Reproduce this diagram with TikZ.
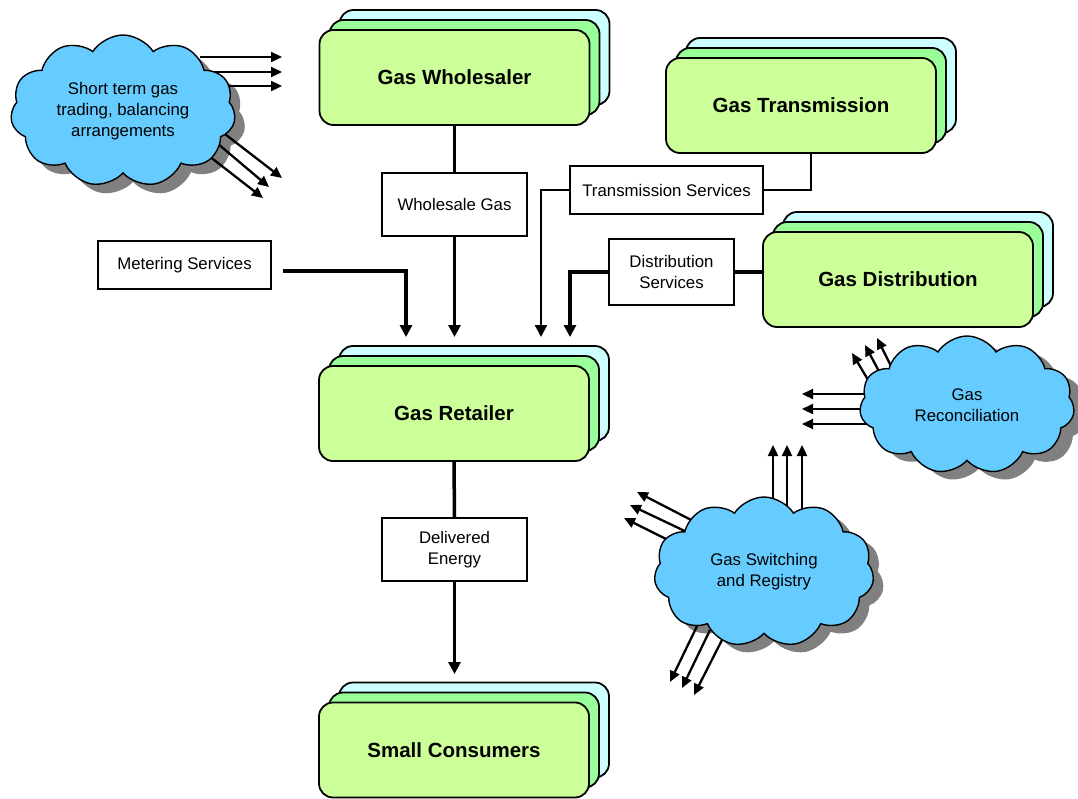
\documentclass[tikz,border=0pt]{standalone}
\usepackage{fontspec}
\setmainfont{Liberation Sans}
\usetikzlibrary{shapes.symbols,arrows.meta,calc}
\definecolor{frontc}{HTML}{CCFF99}
\definecolor{midc}{HTML}{99FF99}
\definecolor{backc}{HTML}{CCFFFF}
\definecolor{cloudc}{HTML}{66CCFF}
\definecolor{shadowc}{HTML}{808080}
\tikzset{
 layer/.style={draw=black, line width=1.8pt, rounded corners=14pt, minimum width=270pt, minimum height=95pt, inner sep=0pt},
 frontbox/.style={layer, fill=frontc, font=\fontsize{20.5}{24}\selectfont\bfseries},
 midbox/.style={layer, fill=midc},
 backbox/.style={layer, fill=backc},
 lbl/.style={draw, line width=1.4pt, fill=white, align=center, font=\fontsize{16.8}{20.5}\selectfont, inner sep=0pt},
 conn/.style={line width=3.5pt, -{Triangle[width=12pt,length=12pt]}},
 plainline/.style={line width=3.5pt},
 carrow/.style={line width=2.3pt, -{Triangle[width=10pt,length=11pt]}},
 cloudbase/.style={cloud, cloud puffs=11, cloud puff arc=115, aspect=1.5, inner sep=0pt},
 cloudn/.style={cloudbase, draw=black, line width=1.4pt, fill=cloudc, align=center, font=\fontsize{16.8}{21}\selectfont},
 cloudsh/.style={cloudbase, fill=shadowc},
}
\newcommand{\stackbox}[4]{%
 \node[backbox] at (#2+20,#3-20) {};
 \node[midbox] at (#2+10,#3-10) {};
 \node[frontbox] (#1) at (#2,#3) {#4};
}
\begin{document}
\begin{tikzpicture}[x=1pt,y=-1pt]
\useasboundingbox (0,0) rectangle (1078,798);
% stacked boxes
\stackbox{whole}{454.5}{77.5}{Gas Wholesaler}
\stackbox{trans}{801}{105.5}{Gas Transmission}
\stackbox{dist}{898}{279.5}{Gas Distribution}
\stackbox{ret}{454}{413.5}{Gas Retailer}
\stackbox{cons}{454}{750}{Small Consumers}
% label boxes
\node[lbl, minimum width=145pt, minimum height=63pt] (wgas) at (454.5,204.5) {Wholesale Gas};
\node[lbl, minimum width=193pt, minimum height=48pt] (tserv) at (666.5,190) {Transmission Services};
\node[lbl, minimum width=125pt, minimum height=66pt] (dserv) at (671.5,272) {Distribution\\Services};
\node[lbl, minimum width=173pt, minimum height=48pt] (meter) at (184.5,265) {Metering Services};
\node[lbl, minimum width=145pt, minimum height=63pt] (deliv) at (454.5,549.5) {Delivered\\Energy};
% arrow end points
\coordinate (tipW) at (454.5,337);
\coordinate (tipM) at (406,337);
\coordinate (tipT) at (541,337);
\coordinate (tipD) at (570,337);
\coordinate (tipC) at (454.5,674);
% connectors
\draw[plainline] (whole.south) -- (wgas.north);
\draw[conn] (wgas.south) -- (tipW);
\draw[conn] ([xshift=11pt,yshift=-6pt]meter.east) -| (tipM);
\draw[plainline, line width=2.4pt] ([xshift=10pt]trans.south) |- (tserv.east);
\draw[conn, line width=2.4pt] (tserv.west) -| (tipT);
\draw[plainline] (dist.west |- dserv.east) -- (dserv.east);
\draw[conn] (dserv.west) -| (tipD);
\draw[plainline] (ret.south) -- (deliv.north);
\draw[conn] (deliv.south) -- (tipC);
% cloud shadows
\node[cloudsh, minimum width=225pt, minimum height=152pt] (stsh) at (133,120) {};
\node[cloudsh, minimum width=215pt, minimum height=138pt] (resh) at (979,413) {};
\node[cloudsh, minimum width=220pt, minimum height=150pt] (swsh) at (774,580) {};
% cloud arrows: short term
\coordinate (sa1) at (200,57);  \coordinate (sb1) at (282,57);
\coordinate (sa2) at (205,72);  \coordinate (sb2) at (282,72);
\coordinate (sa3) at (205,86);  \coordinate (sb3) at (282,86);
\coordinate (sc1) at (221,131); \coordinate (sd1) at (282,178);
\coordinate (sc2) at (211,138); \coordinate (sd2) at (269,187);
\coordinate (sc3) at (200,149); \coordinate (sd3) at (263,198);
\foreach \i in {1,2,3} {
 \draw[carrow] (sa\i) -- (sb\i);
 \draw[carrow] (sc\i) -- (sd\i);
}
% reconciliation
\coordinate (ra1) at (885,394); \coordinate (rb1) at (802,394);
\coordinate (ra2) at (885,409); \coordinate (rb2) at (802,409);
\coordinate (ra3) at (885,424); \coordinate (rb3) at (802,424);
\coordinate (rc1) at (880,400); \coordinate (rd1) at (852,353);
\coordinate (rc2) at (891,394); \coordinate (rd2) at (865,345);
\coordinate (rc3) at (901,386); \coordinate (rd3) at (877,338);
\foreach \i in {1,2,3} {
 \draw[carrow] (ra\i) -- (rb\i);
 \draw[carrow] (rc\i) -- (rd\i);
}
% switching
\coordinate (wa1) at (773,515); \coordinate (wb1) at (773,445);
\coordinate (wa2) at (787,515); \coordinate (wb2) at (787,445);
\coordinate (wa3) at (802,515); \coordinate (wb3) at (802,445);
\coordinate (wc1) at (697,523); \coordinate (wd1) at (637,492);
\coordinate (wc2) at (689,533); \coordinate (wd2) at (630,505);
\coordinate (wc3) at (682,547); \coordinate (wd3) at (624,518);
\coordinate (we1) at (699,622); \coordinate (wf1) at (670,682);
\coordinate (we2) at (710,630); \coordinate (wf2) at (682,688);
\coordinate (we3) at (723,638); \coordinate (wf3) at (694,695);
\foreach \i in {1,2,3} {
 \draw[carrow] (wa\i) -- (wb\i);
 \draw[carrow] (wc\i) -- (wd\i);
 \draw[carrow] (we\i) -- (wf\i);
}
% clouds
\node[cloudn, minimum width=225pt, minimum height=152pt] (st) at (123,111) {Short term gas\\trading, balancing\\arrangements};
\node[cloudn, minimum width=215pt, minimum height=138pt] (rec) at (967,405) {Gas\\Reconciliation};
\node[cloudn, minimum width=220pt, minimum height=150pt] (sw) at (764,572) {Gas Switching\\and Registry};
\end{tikzpicture}
\end{document}
